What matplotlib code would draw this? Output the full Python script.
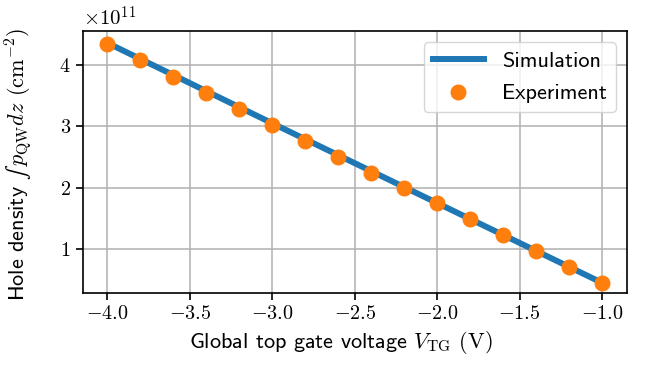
import numpy as np
import matplotlib
matplotlib.use("Agg")
import matplotlib.pyplot as plt
from matplotlib.ticker import FuncFormatter

# --- Data (hole density in units of 1e11 cm^-2) ---
v_tg = [-4.0, -3.8, -3.6, -3.4, -3.2, -3.0, -2.8, -2.6, -2.4, -2.2,
        -2.0, -1.8, -1.6, -1.4, -1.2, -1.0]
density_exp = [4.35, 4.08, 3.81, 3.55, 3.28, 3.02, 2.76, 2.50, 2.24, 1.99,
               1.75, 1.49, 1.23, 0.97, 0.71, 0.45]
v_sim = [-4.0, -3.0, -2.0, -1.0]
density_sim = [4.36, 3.05, 1.75, 0.45]

plt.rcParams["mathtext.fontset"] = "cm"
plt.rcParams["font.family"] = ["cmss10", "DejaVu Sans"]
plt.rcParams["axes.unicode_minus"] = False

fig = plt.figure(figsize=(6.49, 3.67), dpi=100)
ax = fig.add_axes([0.1274, 0.2008, 0.8382, 0.7147])

ax.plot(v_sim, density_sim, color="#1f77b4", linewidth=4.3, label="Simulation", zorder=2)
ax.plot(v_tg, density_exp, "o", color="#ff7f0e", markersize=10.5, label="Experiment", zorder=3)

ax.set_xlim(-4.15, -0.85)
ax.set_ylim(0.278, 4.554)
ax.set_xticks([-4.0, -3.5, -3.0, -2.5, -2.0, -1.5, -1.0])
ax.set_yticks([1, 2, 3, 4])
ax.xaxis.set_major_formatter(FuncFormatter(lambda x, p: f"${x:.1f}$"))
ax.yaxis.set_major_formatter(FuncFormatter(lambda y, p: f"${y:.0f}$"))
ax.tick_params(labelsize=14.5, length=5, width=1.2)
for s in ax.spines.values():
    s.set_linewidth(1.2)
ax.grid(True, color="#b0b0b0", linewidth=1.1)
ax.set_axisbelow(True)

ax.text(0.0, 1.005, r"$\times10^{11}$", transform=ax.transAxes, fontsize=15,
        ha="left", va="bottom")

ax.set_xlabel(r"Global top gate voltage $V_{\mathrm{TG}}$ $(\mathrm{V})$", fontsize=16)
ax.xaxis.set_label_coords(0.475, -0.135)
ax.set_ylabel(r"Hole density $∫\, p_{\mathrm{QW}} dz$ $(\mathrm{cm}^{-2})$", fontsize=16)
ax.yaxis.set_label_coords(-0.088, 0.49)

ax.legend(loc="upper right", fontsize=16, handlelength=2.3, labelspacing=0.6)

fig.savefig("out.png", dpi=100)
